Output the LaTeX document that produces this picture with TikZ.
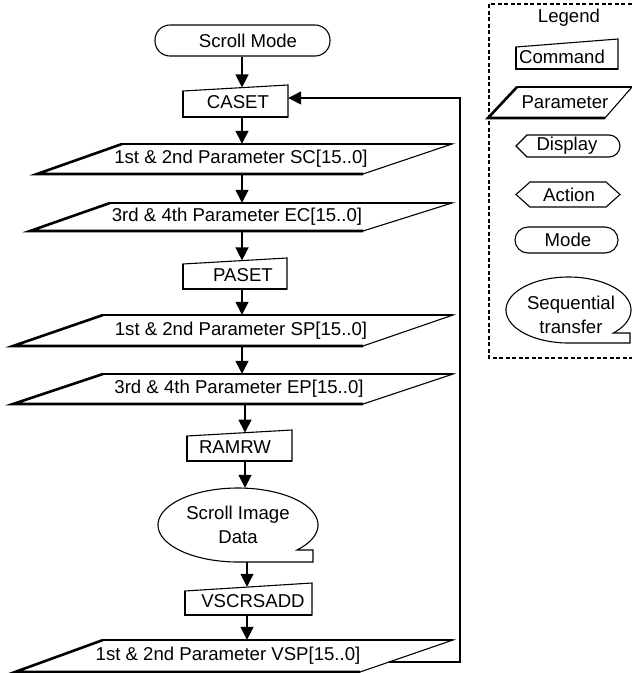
\documentclass[tikz,border=0pt]{standalone}
\usepackage{fontspec}
\setmainfont{Liberation Sans}
\usetikzlibrary{arrows.meta}
\begin{document}
\begin{tikzpicture}[x=1pt,y=-1pt,
  lbl/.style={inner sep=0pt, font=\fontsize{18.6}{24}\selectfont, align=center},
  thinln/.style={line width=1.1pt, line join=miter},
  heavyln/.style={line width=2.6pt, line join=miter, line cap=butt},
  midln/.style={line width=1.7pt},
  flow/.style={line width=1.4pt, -{Triangle[length=13pt,width=13pt]}},
  legendbox/.style={line width=1.3pt, dash pattern=on 4pt off 2.5pt},
]
\useasboundingbox (0,0) rectangle (632,673);
\fill[white] (0,0) rectangle (632,673);

% axes of the flow
\coordinate (axA) at (242,0);
\coordinate (axB) at (245,0);
\coordinate (axC) at (247,0);

% Scroll Mode
\node[lbl, draw, thinln, rounded corners=15pt, minimum width=175pt, minimum height=31pt] (mode) at (242.5,40.5) {\hspace*{11pt}Scroll Mode};

% CASET
\draw[thinln] (183,91) -- (288,85) -- (288,117) -- (183,117) -- cycle;
\draw[heavyln] (183,91) -- (183,117) -- (288,117);
\node[lbl, minimum width=105pt, minimum height=29.4pt] (caset) at (235.5,102.3) {\hspace*{5pt}CASET};

% SC
\draw[thinln] (122,144) -- (452,144) -- (363,174) -- (37,174) -- cycle;
\draw[midln] (122,144) -- (452,144);
\draw[heavyln] (122,144) -- (37,174) -- (363,174);
\node[lbl, minimum height=30pt] (sc) at (241,159) {1st \& 2nd Parameter SC[15..0]};

% EC
\draw[thinln] (110,203) -- (452,203) -- (363,231) -- (30,231) -- cycle;
\draw[midln] (110,203) -- (452,203);
\draw[heavyln] (110,203) -- (30,231) -- (363,231);
\node[lbl, minimum height=28pt] (ec) at (237,217) {3rd \& 4th Parameter EC[15..0]};

% PASET
\draw[thinln] (183,264) -- (287,258) -- (287,289) -- (183,289) -- cycle;
\draw[heavyln] (183,264) -- (183,289) -- (287,289);
\node[lbl, minimum width=104pt, minimum height=28.4pt] (paset) at (235,274.8) {\hspace*{16pt}PASET};

% SP
\draw[thinln] (103,315) -- (453,315) -- (363,346) -- (13,346) -- cycle;
\draw[midln] (103,315) -- (453,315);
\draw[heavyln] (103,315) -- (13,346) -- (363,346);
\node[lbl, minimum height=31pt] (sp) at (241,330.5) {1st \& 2nd Parameter SP[15..0]};

% EP
\draw[thinln] (103,374) -- (453,374) -- (363,404) -- (13,404) -- cycle;
\draw[midln] (103,374) -- (453,374);
\draw[heavyln] (103,374) -- (13,404) -- (363,404);
\node[lbl, minimum height=30pt] (ep) at (239,389) {3rd \& 4th Parameter EP[15..0]};

% RAMRW
\draw[thinln] (187,436) -- (292,430) -- (292,461) -- (187,461) -- cycle;
\draw[heavyln] (187,436) -- (187,461) -- (292,461);
\node[lbl, minimum width=105pt, minimum height=28.3pt] (ramrw) at (239.5,446.9) {\hspace*{-9pt}RAMRW};

% Scroll Image Data (sequential transfer)
\draw[thinln] plot[domain=90:402.5, samples=120] ({238+80*cos(\x)}, {525+37*sin(\x)}) -- (313,550) -- (313,562) -- cycle;
\node[lbl, minimum width=160pt, minimum height=74pt] (sid) at (238,525) {Scroll Image\\Data};

% VSCRSADD
\draw[thinln] (185,591) -- (312,583) -- (312,615) -- (185,615) -- cycle;
\draw[heavyln] (185,591) -- (185,615) -- (312,615);
\node[lbl, minimum width=127pt, minimum height=28pt] (vscr) at (248.5,601) {\hspace*{9pt}VSCRSADD};

% VSP
\draw[thinln] (103,640) -- (453,640) -- (360,672) -- (15,672) -- cycle;
\draw[midln] (103,640) -- (453,640);
\draw[heavyln] (103,640) -- (15,672) -- (360,672);
\node[lbl, minimum height=32pt] (vsp) at (228,656) {1st \& 2nd Parameter VSP[15..0]};

% connectors
\draw[flow] (mode.south -| axA) -- (caset.north -| axA);
\draw[flow] (caset.south -| axA) -- (sc.north -| axA);
\draw[flow] (sc.south -| axA) -- (ec.north -| axA);
\draw[flow] (ec.south -| axA) -- (paset.north -| axA);
\draw[flow] (paset.south -| axA) -- (sp.north -| axA);
\draw[flow] (sp.south -| axA) -- (ep.north -| axA);
\draw[flow] (ep.south -| axB) -- (ramrw.north -| axB);
\draw[flow] (ramrw.south -| axB) -- (sid.north -| axB);
\draw[flow] (sid.south -| axC) -- (vscr.north -| axC);
\draw[flow] (vscr.south -| axC) -- (vsp.north -| axC);

\coordinate (vspout) at (389,662);
\coordinate (loopcorner) at (460,662);
\draw[flow] (vspout) -- (loopcorner) |- ([yshift=4.3pt]caset.east);

% Legend
\draw[legendbox] (489,4) rectangle (645,358);
\node[lbl] (lgtitle) at (569,18) {Legend};

\draw[thinln] (516,47) -- (618,39) -- (618,69) -- (516,69) -- cycle;
\draw[heavyln] (516,47) -- (516,69) -- (618,69);
\node[lbl] (lgcmd) at (562,57) {Command};

\draw[thinln] (517,87) -- (632,87) -- (605,118) -- (488,118) -- cycle;
\draw[midln] (517,87) -- (632,87);
\draw[heavyln] (517,87) -- (488,118) -- (605,118);
\node[lbl] (lgpar) at (565,102.5) {Parameter};

\draw[thinln] (516,146) -- (527,135) -- (609,135) arc[start angle=-90, end angle=90, radius=11] -- (527,157) -- cycle;
\node[lbl] (lgdisp) at (567,146) {Display};

\draw[thinln] (516,194.5) -- (530,182) -- (606,182) -- (620,194.5) -- (606,207) -- (530,207) -- cycle;
\node[lbl] (lgact) at (569,194.5) {Action};

\draw[thinln, rounded corners=13pt] (515,227) rectangle (618,253);
\node[lbl] (lgmode) at (568,240) {Mode};

\draw[thinln] plot[domain=90:404.2, samples=120] ({568.5+62.5*cos(\x)}, {310+33*sin(\x)}) -- (630,333) -- (630,343) -- cycle;
\node[lbl] (lgseq) at (571,315) {Sequential\\transfer};
\end{tikzpicture}
\end{document}
